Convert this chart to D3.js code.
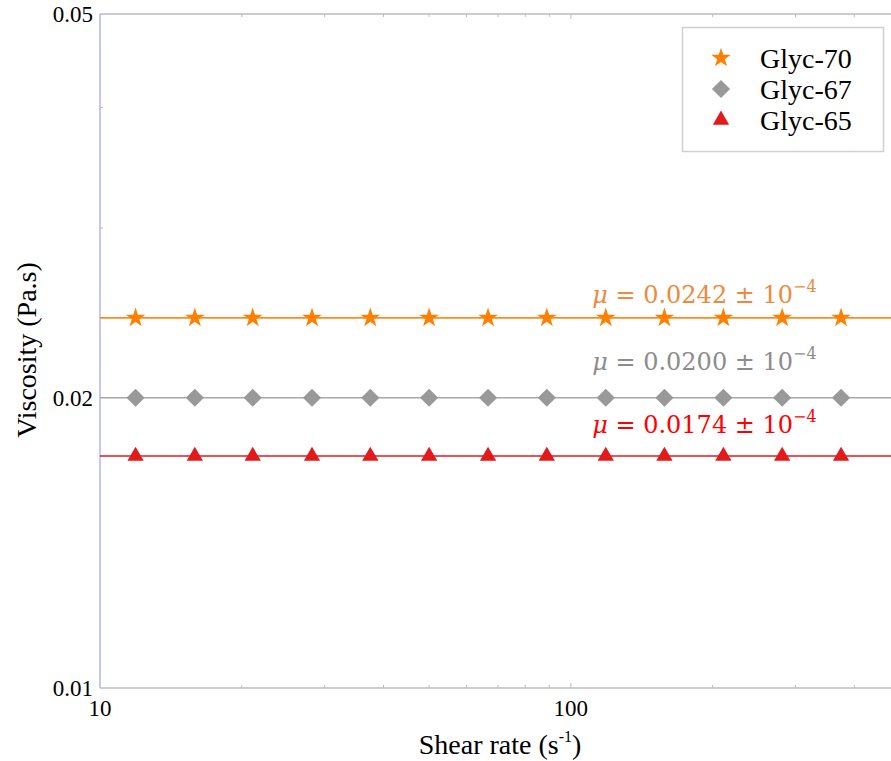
<!DOCTYPE html>
<html>
<head>
<meta charset="utf-8">
<script src="https://cdn.jsdelivr.net/npm/d3@7"></script>
<style>
  body { margin: 0; background: #fff; }
  svg { display: block; }
</style>
</head>
<body>
<script>
/*
* Data
*/

const shearRate = [11.9, 15.9, 21.1, 28.2, 37.5, 50, 66.7, 88.9, 118.6, 158, 210.8, 281, 374.8]
const glyc70 = [0.0242, 0.0242, 0.0242, 0.0242, 0.0242, 0.0242, 0.0242, 0.0242, 0.0242, 0.0242, 0.0242, 0.0242, 0.0242]
const glyc67 = [0.0200, 0.0200, 0.0200, 0.0200, 0.0200, 0.0200, 0.0200, 0.0200, 0.0200, 0.0200, 0.0200, 0.0200, 0.0200]
const glyc65 = [0.0174, 0.0174, 0.0174, 0.0174, 0.0174, 0.0174, 0.0174, 0.0174, 0.0174, 0.0174, 0.0174, 0.0174, 0.0174]
const seriesNames = ['Glyc-70', 'Glyc-67', 'Glyc-65']
const meanViscosity = ['0.0242', '0.0200', '0.0174']
const xTickLabels = [10, 100]
const yTickLabels = [0.01, 0.02, 0.05]

/*
* Setup
*/

const WIDTH = 891
const HEIGHT = 761
const margin = { left: 100, top: 14, bottom: 73 }

const svg = d3.select('body').append('svg')
  .attr('width', WIDTH)
  .attr('height', HEIGHT)

const xScale = d3.scaleLog()
  .domain([10, 500])
  .range([margin.left, 900])

const yScale = d3.scaleLog()
  .domain([0.01, 0.05])
  .range([HEIGHT - margin.bottom, margin.top])

const series = [
  { name: seriesNames[0], values: glyc70, mu: meanViscosity[0], symbol: d3.symbolStar, size: 120, rot: 0,
    marker: '#ff8000', line: '#ff8c1a', text: '#ee8a3c', dy: -15 },
  { name: seriesNames[1], values: glyc67, mu: meanViscosity[1], symbol: d3.symbolSquare, size: 165, rot: 45,
    marker: '#999999', line: '#a8a8a8', text: '#8c8c8c', dy: -28 },
  { name: seriesNames[2], values: glyc65, mu: meanViscosity[2], symbol: d3.symbolTriangle, size: 115, rot: 0,
    marker: '#e31a1c', line: '#e31a1c', text: '#ff0000', dy: -23 }
]

const serif = '"Liberation Serif", "Times New Roman", serif'
const mathFont = '"DejaVu Serif", serif'

/*
* Axes (ticks pointing inside, mirrored on top)
*/

const x0 = xScale(10)
const y0 = yScale(0.01)
const yTop = yScale(0.05)

const xMinor = d3.range(20, 100, 10).concat(d3.range(200, 500, 100))
const yMinor = [0.03, 0.04]

svg.append('line')
  .attr('x1', x0).attr('x2', WIDTH).attr('y1', y0).attr('y2', y0)
  .attr('stroke', '#bcbcbc').attr('stroke-width', 1.5)
svg.append('line')
  .attr('x1', x0).attr('x2', WIDTH).attr('y1', yTop).attr('y2', yTop)
  .attr('stroke', '#bcbcbc').attr('stroke-width', 1.5)

svg.selectAll('.xtick-b')
  .data(xMinor.concat([100]))
  .enter().append('line')
  .attr('x1', d => xScale(d)).attr('x2', d => xScale(d))
  .attr('y1', y0).attr('y2', d => y0 - (d === 100 ? 5 : 3))
  .attr('stroke', '#bcbcbc')
svg.selectAll('.xtick-t')
  .data(xMinor.concat([100]))
  .enter().append('line')
  .attr('x1', d => xScale(d)).attr('x2', d => xScale(d))
  .attr('y1', yTop).attr('y2', d => yTop + (d === 100 ? 5 : 3))
  .attr('stroke', '#bcbcbc')

svg.append('line')
  .attr('x1', x0).attr('x2', x0).attr('y1', yTop).attr('y2', y0)
  .attr('stroke', '#b4b4e8').attr('stroke-width', 1.5)
svg.selectAll('.ytick')
  .data(yMinor)
  .enter().append('line')
  .attr('x1', x0).attr('x2', x0 + 3)
  .attr('y1', d => yScale(d)).attr('y2', d => yScale(d))
  .attr('stroke', '#bcbcbc')

svg.selectAll('.xlabel')
  .data(xTickLabels)
  .enter().append('text')
  .attr('x', d => xScale(d))
  .attr('y', y0 + 28)
  .attr('text-anchor', 'middle')
  .attr('font-family', serif).attr('font-size', 23)
  .text(d => d)

svg.selectAll('.ylabel')
  .data(yTickLabels)
  .enter().append('text')
  .attr('x', x0 - 7)
  .attr('y', d => yScale(d) + 8)
  .attr('text-anchor', 'end')
  .attr('font-family', serif).attr('font-size', 23)
  .text(d => d)

// titres
const xTitle = svg.append('text')
  .attr('x', 500).attr('y', 754)
  .attr('text-anchor', 'middle')
  .attr('font-family', serif).attr('font-size', 28)
xTitle.append('tspan').text('Shear rate (s')
xTitle.append('tspan').attr('font-size', 16).attr('dy', -12).text('-1')
xTitle.append('tspan').attr('dy', 12).text(')')

svg.append('text')
  .attr('transform', 'translate(36,350) rotate(-90)')
  .attr('text-anchor', 'middle')
  .attr('font-family', serif).attr('font-size', 28)
  .text('Viscosity (Pa.s)')

/*
* Lines, markers, labels
*/

const line = d3.line()
  .x(d => xScale(d[0]))
  .y(d => yScale(d[1]))

series.forEach(s => {
  const mean = +s.mu
  svg.append('path')
    .datum(xScale.domain().map(x => [x, mean]))
    .attr('d', line)
    .attr('fill', 'none')
    .attr('stroke', s.line)
    .attr('stroke-width', 1.6)

  svg.selectAll(null)
    .data(shearRate.map((x, i) => [x, s.values[i]]))
    .enter().append('path')
    .attr('transform', d => `translate(${xScale(d[0])},${yScale(d[1])}) rotate(${s.rot})`)
    .attr('d', d3.symbol().type(s.symbol).size(s.size))
    .attr('fill', s.marker)

  const t = svg.append('text')
    .attr('x', xScale(111))
    .attr('y', yScale(mean) + s.dy)
    .attr('font-family', mathFont).attr('font-size', 24)
    .attr('fill', s.text)
  t.append('tspan').attr('font-style', 'italic').text('μ')
  t.append('tspan').text(' = ' + s.mu + ' ± 10')
  t.append('tspan').attr('font-size', 16).attr('dy', -11).text('−4')
})

/*
* Legend
*/

const legend = svg.append('g')
legend.append('rect')
  .attr('x', 682.5).attr('y', 27.5)
  .attr('width', 201).attr('height', 124)
  .attr('fill', '#fff').attr('stroke', '#d0d0d0').attr('stroke-width', 1.5)

series.forEach((s, i) => {
  const cy = 58 + i * 31
  legend.append('path')
    .attr('transform', `translate(721,${cy}) rotate(${s.rot})`)
    .attr('d', d3.symbol().type(s.symbol).size(s.size))
    .attr('fill', s.marker)
  legend.append('text')
    .attr('x', 760).attr('y', cy + 10)
    .attr('font-family', serif).attr('font-size', 28)
    .text(s.name)
})
</script>
</body>
</html>
